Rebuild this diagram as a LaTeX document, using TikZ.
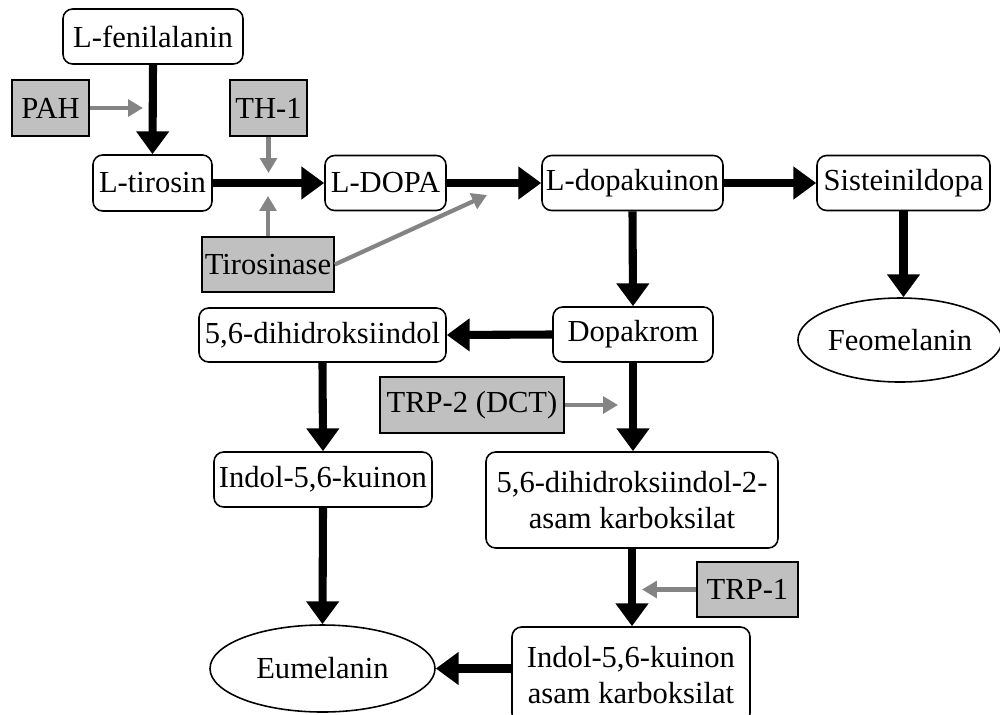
\documentclass[tikz,border=0pt]{standalone}
\usepackage{fontspec}
\setmainfont{Liberation Serif}
\usetikzlibrary{arrows.meta,shapes.geometric}
\definecolor{enzfill}{HTML}{C0C0C0}
\definecolor{catgray}{HTML}{848484}
\begin{document}
\begin{tikzpicture}[x=0.02cm,y=-0.02cm,
  txt/.style={font=\fontsize{17.4}{20.2}\selectfont,align=center,inner sep=0pt},
  sz/.style 2 args={minimum width=#1*0.02cm,minimum height=#2*0.02cm},
  box/.style={txt,draw,line width=0.9pt,rounded corners=5.5pt,fill=white},
  enz/.style={txt,draw,line width=0.9pt,fill=enzfill},
  oval/.style={txt,ellipse,draw,line width=0.9pt,fill=white},
  main/.style={line width=4.6pt,-{Triangle[length=13pt,width=18pt]}},
  cat/.style={catgray,line width=2.4pt,-{Triangle[length=8.5pt,width=9.5pt]}}
]
\useasboundingbox (0,0) rectangle (1000,714);
\clip (0,0) rectangle (1000,714);
\fill[white] (0,0) rectangle (1000,714);

% nodes
\node[box,sz={180}{55}] (fen) at (153,36.5) {L-fenilalanin};
\node[enz,sz={77}{56}] (pah) at (50.5,108) {PAH};
\node[enz,sz={77}{56}] (th) at (268.5,108) {TH-1};
\node[box,sz={119}{56}] (tir) at (152.5,183) {L-tirosin};
\node[box,sz={121}{55}] (dopa) at (385.5,183) {L-DOPA};
\node[box,sz={181}{55}] (dq) at (632.5,183) {L-dopakuinon};
\node[box,sz={173}{55}] (sis) at (903.5,183) {Sisteinildopa};
\node[enz,sz={132}{55}] (tyr) at (268,264.5) {Tirosinase};
\node[box,sz={247}{54}] (dhi) at (322.5,335) {5,6-dihidroksiindol};
\node[box,sz={160}{55}] (dk) at (633,334.5) {Dopakrom};
\node[oval,sz={201}{84}] (feo) at (900,340) {Feomelanin};
\node[enz,sz={184}{56}] (trp2) at (472,405) {TRP-2 (DCT)};
\node[box,sz={218}{55}] (iq) at (323,479.5) {Indol-5,6-kuinon};
\node[box,sz={292}{96}] (dhica) at (632,500) {5,6-dihidroksiindol-2-\\asam karboksilat};
\node[enz,sz={101}{55}] (trp1) at (747.5,589.5) {TRP-1};
\node[oval,sz={225}{87}] (eu) at (322.5,668.5) {Eumelanin};
\node[box,sz={238}{96}] (iqca) at (631,675) {Indol-5,6-kuinon\\asam karboksilat};

% catalyst targets
\coordinate (pahT) at (143,108);
\coordinate (thT) at (268.5,173);
\coordinate (tyrT) at (268,196);
\coordinate (tyrT2) at (487,195);
\coordinate (trp2T) at (618,405);
\coordinate (trp1T) at (642,589.5);

% main pathway
\draw[main] (fen.south) -- (tir.north);
\draw[main] (tir.east) -- (dopa.west);
\draw[main] (dopa.east) -- (dq.west);
\draw[main] (dq.east) -- (sis.west);
\draw[main] (dq.south) -- (dk.north);
\draw[main] (sis.south) -- (sis.south |- feo.north);
\draw[main] (dk.west) -- (dhi.east);
\draw[main] (dhi.south) -- (iq.north);
\draw[main] (dk.south) -- (dk.south |- dhica.north);
\draw[main] (iq.south) -- (eu.north);
\draw[main] (dhica.south) -- (dhica.south |- iqca.north);
\draw[main] (iqca.west |- eu.east) -- (eu.east);

% enzymes
\draw[cat] (pah.east) -- (pahT);
\draw[cat] (th.south) -- (thT);
\draw[cat] (tyr.north) -- (tyrT);
\draw[cat] (tyr.east) -- (tyrT2);
\draw[cat] (trp2.east) -- (trp2T);
\draw[cat] (trp1.west) -- (trp1T);
\end{tikzpicture}
\end{document}
